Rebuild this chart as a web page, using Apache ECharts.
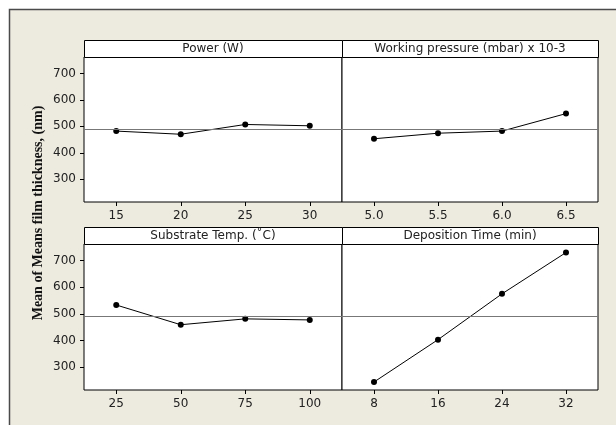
<!DOCTYPE html>
<html>
<head>
<meta charset="utf-8">
<script src="https://cdn.jsdelivr.net/npm/echarts@6/dist/echarts.min.js"></script>
<style>
html,body{margin:0;padding:0;background:#ffffff;}
#c{width:616px;height:425px;}
</style>
</head>
<body>
<div id="c"></div>
<script>
// ---- data ----
var panelTitles = ['Power (W)', 'Working pressure (mbar) x 10-3', 'Substrate Temp. (\u02DAC)', 'Deposition Time (min)'];
var powerCats = ['15', '20', '25', '30'];
var powerVals = [482, 470, 507, 502];
var pressureCats = ['5.0', '5.5', '6.0', '6.5'];
var pressureVals = [453, 474, 482, 548];
var tempCats = ['25', '50', '75', '100'];
var tempVals = [533, 459, 481, 477];
var timeCats = ['8', '16', '24', '32'];
var timeVals = [244, 403, 575, 730];
var grandMean = 489;
var yTicks = [300, 400, 500, 600, 700];
var yTitle = 'Mean of Means film thickness, (nm)';

var cats = [powerCats, pressureCats, tempCats, timeCats];
var vals = [powerVals, pressureVals, tempVals, timeVals];

// ---- layout ----
var panels = [
  {left: 84, top: 57, width: 258, height: 145},
  {left: 342, top: 57, width: 256, height: 145},
  {left: 84, top: 244, width: 258, height: 146},
  {left: 342, top: 244, width: 256, height: 146}
];
var stripH = 17;
var font = 'DejaVu Sans';

var chart = echarts.init(document.getElementById('c'), null, {renderer: 'canvas'});

var grids = [], xAxes = [], yAxes = [], series = [], graphics = [];

graphics.push({
  type: 'rect', z: -10, silent: true,
  shape: {x: 9.5, y: 9.5, width: 640, height: 440},
  style: {fill: '#EDEADF', stroke: '#4a4a4a', lineWidth: 1.5}
});

panels.forEach(function (p, i) {
  var isLeft = (i % 2 === 0);
  grids.push({
    left: p.left, top: p.top, width: p.width, height: p.height,
    show: true, backgroundColor: '#ffffff', borderColor: '#000000', borderWidth: 1
  });
  xAxes.push({
    type: 'category', gridIndex: i, data: cats[i], boundaryGap: true,
    axisLine: {show: false},
    axisTick: {show: true, alignWithLabel: true, length: 4, lineStyle: {color: '#000'}},
    axisLabel: {color: '#222', fontFamily: font, fontSize: 12, margin: 8},
    splitLine: {show: false}
  });
  yAxes.push({
    type: 'value', gridIndex: i, min: 214, max: 762,
    axisLine: {show: false},
    axisTick: {show: isLeft, length: 4, customValues: yTicks, lineStyle: {color: '#000'}},
    axisLabel: {show: isLeft, customValues: yTicks, color: '#222', fontFamily: font, fontSize: 12, margin: 8},
    splitLine: {show: false}
  });
  series.push({
    type: 'line', xAxisIndex: i, yAxisIndex: i, data: vals[i],
    symbol: 'circle', symbolSize: 6,
    itemStyle: {color: '#000'},
    lineStyle: {color: '#000', width: 1},
    animation: false,
    markLine: {
      silent: true, symbol: 'none', label: {show: false},
      lineStyle: {color: '#777777', width: 1, type: 'solid'},
      data: [{yAxis: grandMean}]
    }
  });
  graphics.push({
    type: 'rect', silent: true, z: 5,
    shape: {x: p.left + 0.5, y: p.top - stripH + 0.5, width: p.width, height: stripH},
    style: {fill: '#ffffff', stroke: '#000000', lineWidth: 1}
  });
  graphics.push({
    type: 'text', silent: true, z: 6,
    x: p.left + p.width / 2, y: p.top - stripH / 2 + 0.5,
    style: {text: panelTitles[i], fill: '#222', font: '12px "' + font + '"', align: 'center', verticalAlign: 'middle'}
  });
});

graphics.push({
  type: 'text', silent: true, z: 6,
  x: 38, y: 213, rotation: Math.PI / 2,
  style: {text: yTitle, fill: '#111', font: 'bold 14px "Liberation Serif"', align: 'center', verticalAlign: 'middle'}
});

chart.setOption({
  backgroundColor: '#ffffff',
  animation: false,
  grid: grids,
  xAxis: xAxes,
  yAxis: yAxes,
  series: series,
  graphic: graphics
});
</script>
</body>
</html>
